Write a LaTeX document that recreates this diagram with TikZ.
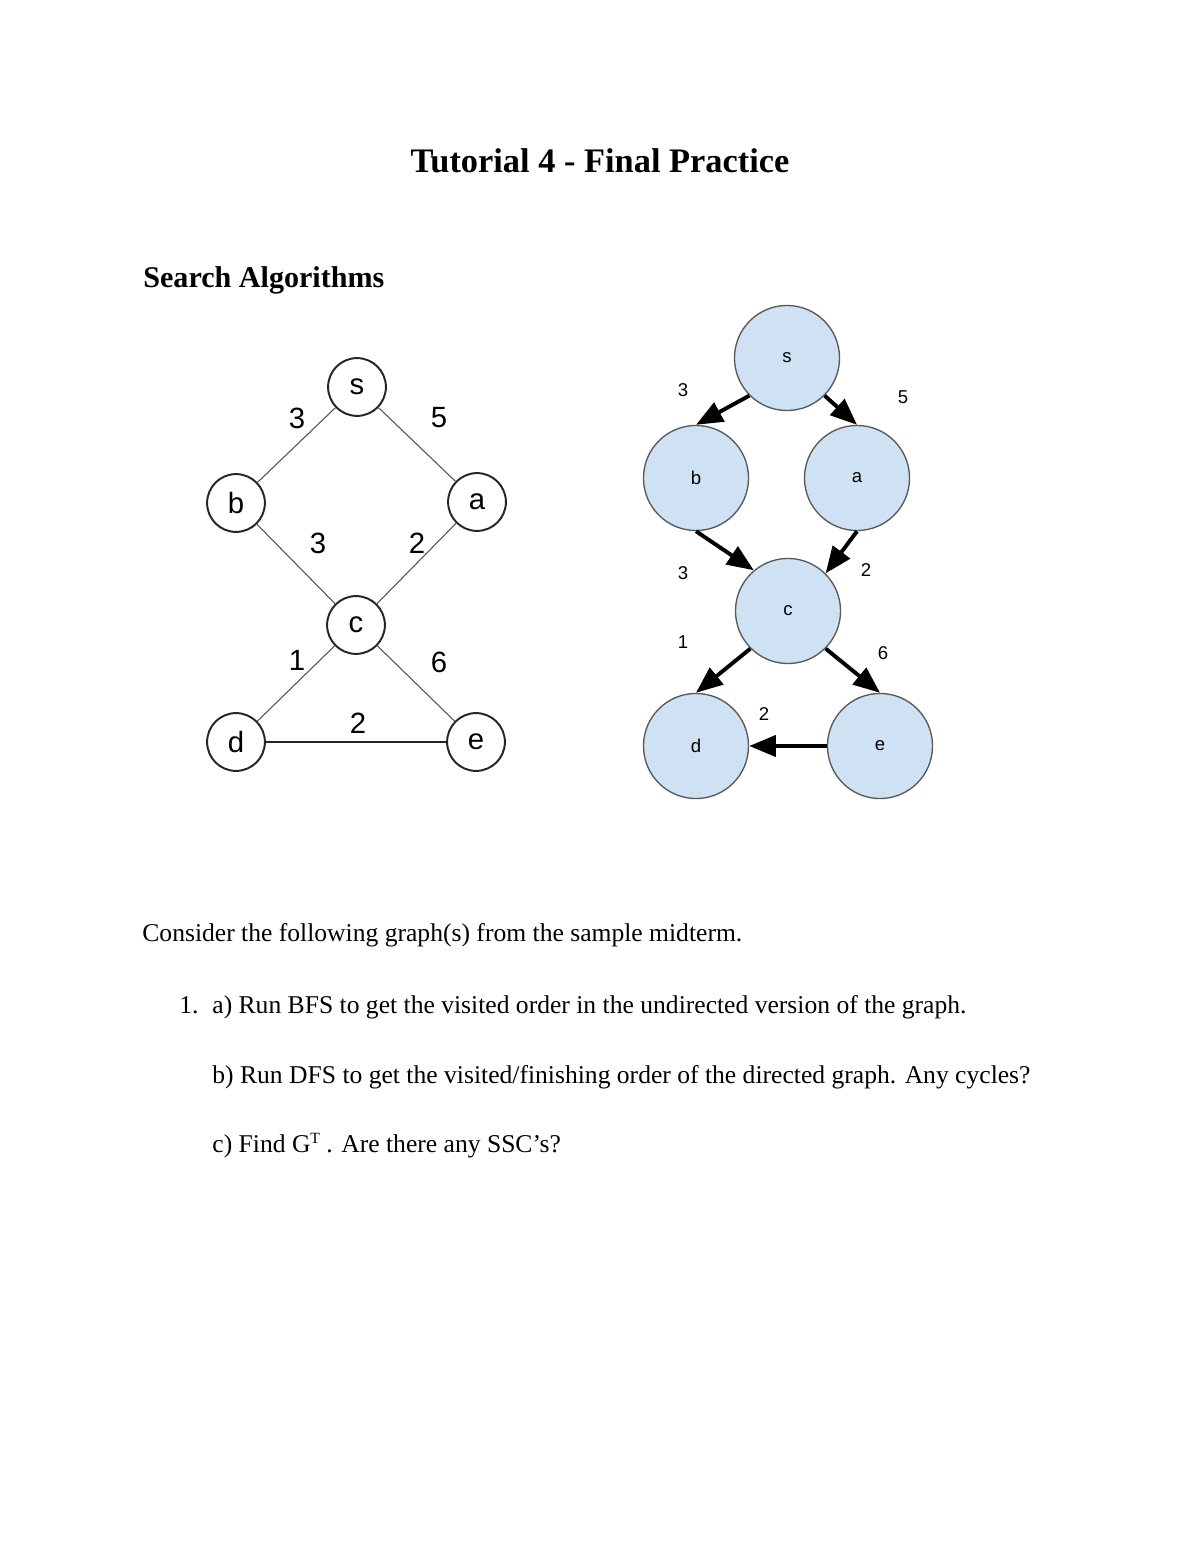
\documentclass[tikz,border=0pt]{standalone}
\usepackage{fontspec}
\setmainfont{Liberation Serif}
\setsansfont{Liberation Sans}
\usepackage{xcolor}
\usetikzlibrary{arrows.meta}

\definecolor{nodeblue}{HTML}{CFE2F3}
\definecolor{edgegray}{HTML}{555555}
\definecolor{rimgray}{HTML}{5A5A5A}

\tikzset{
  unode/.style={circle, draw=black!85, line width=1pt, minimum size=1.04cm, inner sep=0pt, font=\sffamily\fontsize{15}{15}\selectfont},
  uedge/.style={draw=edgegray, line width=0.55pt},
  ulabel/.style={font=\sffamily\fontsize{15}{15}\selectfont},
  dnode/.style={circle, draw=rimgray, fill=nodeblue, line width=0.7pt, minimum size=1.89cm, inner sep=0pt, font=\sffamily\fontsize{9.5}{9.5}\selectfont},
  dedge/.style={line width=2pt, -{Triangle[length=0.48cm, width=0.38cm]}},
  dlabel/.style={font=\sffamily\fontsize{9.5}{9.5}\selectfont},
  bodytext/.style={anchor=base west, inner sep=0pt, font=\fontsize{13.1}{16}\selectfont}
}

\begin{document}
\begin{tikzpicture}[x=0.01799cm, y=-0.01799cm]
  % Page
  \fill[white] (0,0) rectangle (1200,1553);
  \useasboundingbox (0,0) rectangle (1200,1553);

  % Titles
  \node[anchor=base, inner sep=0pt, font=\bfseries\fontsize{17.6}{20}\selectfont] (title) at (600,173) {Tutorial 4 - Final Practice};
  \node[anchor=base west, inner sep=0pt, font=\bfseries\fontsize{15.4}{18}\selectfont] (section) at (143,288) {Search Algorithms};

  % Undirected graph: nodes
  \foreach \n/\x/\y in {s/357/387, b/236/503, a/477/502, c/356/625, d/236/742, e/476/742} {
    \node[unode] (u\n) at (\x,\y) {\n};
  }

  % Undirected graph: edges
  \foreach \p/\q in {s/b, s/a, b/c, a/c, c/d, c/e} {
    \draw[uedge] (u\p) -- (u\q);
  }
  \draw[uedge, draw=black!85] (ud) -- (ue);

  % Undirected graph: weights
  \foreach \i/\x/\y/\w in {1/297/418/3, 2/439/418/5, 3/318/543/3, 4/417/543/2, 5/297/660/1, 6/439/662/6, 7/358/723/2} {
    \node[ulabel] (uw\i) at (\x,\y) {\w};
  }

  % Directed graph: nodes
  \foreach \n/\x/\y in {s/787/358, b/696/478, a/857/478, c/788/611, d/696/746, e/880/746} {
    \node[dnode] (d\n) at (\x,\y) {\n};
  }

  % Directed graph: arcs
  \draw[dedge] (ds.-135) -- (db.north);
  \draw[dedge] (ds.-45) -- (da.north);
  \draw[dedge] (db.south) -- (dc.130);
  \draw[dedge] (da.south) -- (dc.45);
  \draw[dedge] (dc.-135) -- (dd.north);
  \draw[dedge] (dc.-45) -- (de.north);
  \draw[dedge] (de.west) -- (dd.east);

  % Directed graph: weights
  \foreach \i/\x/\y/\w in {1/683/390/3, 2/903/397/5, 3/683/573/3, 4/866/570/2, 5/683/642/1, 6/883/653/6, 7/764/714/2} {
    \node[dlabel] (dw\i) at (\x,\y) {\w};
  }

  % Questions
  \node[bodytext] (intro) at (142,941) {Consider the following graph(s) from the sample midterm.};
  \node[bodytext] (qnum) at (179,1013) {1.};
  \node[bodytext] (qa) at (212,1013) {a) Run BFS to get the visited order in the undirected version of the graph.};
  \node[bodytext] (qb) at (212,1083) {b) Run DFS to get the visited/finishing order of the directed graph. Any cycles?};
  \node[bodytext] (qc) at (212,1152) {c) Find G\raisebox{0.75ex}{\fontsize{8}{8}\selectfont T} . Are there any SSC’s?};
\end{tikzpicture}
\end{document}
